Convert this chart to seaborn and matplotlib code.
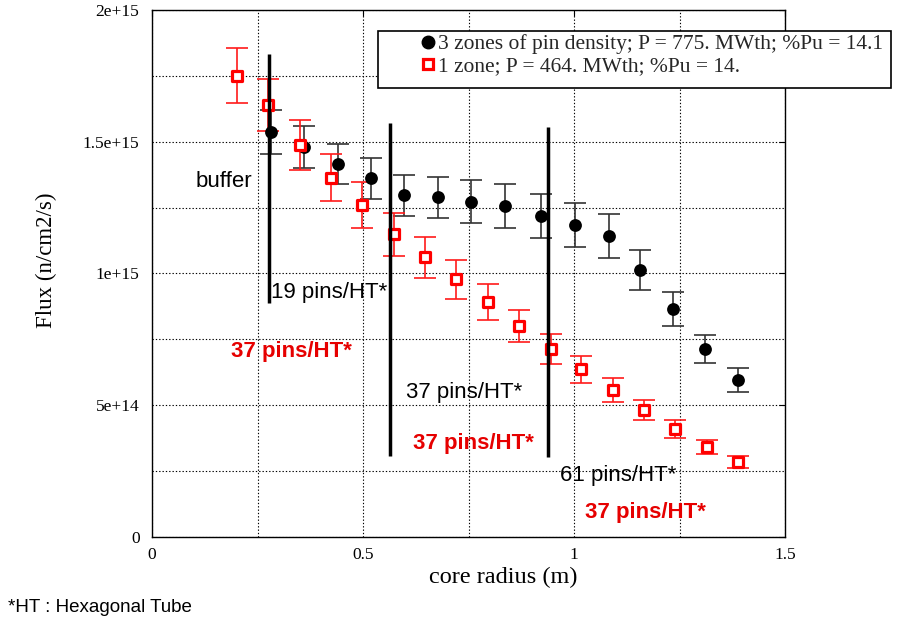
import matplotlib
matplotlib.use('Agg')
import matplotlib.pyplot as plt
import seaborn as sns
import numpy as np
import pandas as pd
from matplotlib.lines import Line2D
from matplotlib.patches import Rectangle

# ---------------- data ----------------
black_r = [0.282, 0.361, 0.441, 0.519, 0.598, 0.677, 0.756, 0.836, 0.921,
           1.002, 1.084, 1.157, 1.234, 1.311, 1.388]
black_flux = [1.537, 1.481, 1.416, 1.362, 1.297, 1.289, 1.273, 1.256, 1.218,
              1.184, 1.142, 1.013, 0.866, 0.713, 0.596]  # x1e15
black_err = [0.084, 0.079, 0.077, 0.078, 0.077, 0.079, 0.081, 0.082, 0.083,
             0.084, 0.084, 0.075, 0.065, 0.054, 0.045]

red_r = [0.202, 0.275, 0.350, 0.425, 0.498, 0.574, 0.646, 0.720, 0.796,
         0.869, 0.945, 1.017, 1.093, 1.167, 1.240, 1.316, 1.389]
red_flux = [1.750, 1.639, 1.487, 1.364, 1.260, 1.149, 1.061, 0.978, 0.891,
            0.802, 0.713, 0.636, 0.558, 0.482, 0.409, 0.343, 0.283]  # x1e15
red_err = [0.104, 0.100, 0.094, 0.089, 0.087, 0.082, 0.078, 0.074, 0.068,
           0.061, 0.056, 0.051, 0.044, 0.037, 0.034, 0.027, 0.023]

boundary_r = [0.278, 0.565, 0.938]
boundary_top = [1.833, 1.571, 1.556]
boundary_bottom = [0.888, 0.307, 0.304]

legend_labels = ["3 zones of pin density; P = 775. MWth; %Pu = 14.1",
                 "1 zone; P = 464. MWth; %Pu = 14."]
x_ticks = [0, 0.5, 1, 1.5]
x_tick_labels = ["0", "0.5", "1", "1.5"]
y_ticks = [0, 5e14, 1e15, 1.5e15, 2e15]
y_tick_labels = ["0", "5e+14", "1e+15", "1.5e+15", "2e+15"]

SCALE = 1e15
df_black = pd.DataFrame({"r": black_r,
                         "flux": np.array(black_flux) * SCALE,
                         "err": np.array(black_err) * SCALE})
df_red = pd.DataFrame({"r": red_r,
                       "flux": np.array(red_flux) * SCALE,
                       "err": np.array(red_err) * SCALE})

# ---------------- style ----------------
sns.set_theme(style='white')
plt.rcParams['font.family'] = ['Liberation Serif', 'DejaVu Serif']
SANS = ['Liberation Sans', 'DejaVu Sans']

W, H = 906, 625
fig = plt.figure(figsize=(W / 100, H / 100), dpi=100)
ax = fig.add_axes([152 / W, 1 - 537 / H, 633 / W, 527 / H])

# grid
ax.set_xlim(0, 1.5)
ax.set_ylim(0, 2e15)
ax.set_xticks(x_ticks, x_tick_labels)
ax.set_yticks(y_ticks, y_tick_labels)
ax.set_xticks(np.arange(0.25, 1.5, 0.5), minor=True)
ax.set_yticks(np.arange(2.5e14, 2e15, 5e14), minor=True)
ax.grid(which='both', linestyle=(0, (1.2, 1.8)), color='black', linewidth=0.8)
ax.set_axisbelow(True)

# error bars
ax.errorbar(df_black["r"], df_black["flux"], yerr=df_black["err"], fmt='none',
            ecolor='#333333', elinewidth=1.2, capsize=8, capthick=1.2, zorder=3)
ax.errorbar(df_red["r"], df_red["flux"], yerr=df_red["err"], fmt='none',
            ecolor='#ff1a1a', elinewidth=1.2, capsize=8, capthick=1.2, zorder=3)

# markers
sns.scatterplot(data=df_black, x="r", y="flux", marker='o', s=85, color='black',
                linewidth=0, ax=ax, zorder=4, legend=False)
sns.scatterplot(data=df_red, x="r", y="flux", marker='s', s=42, color='white',
                edgecolor='#ff0000', linewidth=2.3, ax=ax, zorder=4, legend=False)

# zone boundaries
ax.vlines(boundary_r, np.array(boundary_bottom) * SCALE, np.array(boundary_top) * SCALE,
          colors='black', linewidth=2.5, zorder=5)

# labels
ax.set_xlabel("core radius (m)", fontsize=17.5, color='black')
ax.set_ylabel("Flux (n/cm2/s)", fontsize=16.5, color='black')
ax.xaxis.set_label_coords((503 - 152) / 633, -(567 - 537) / 527)
ax.yaxis.set_label_coords((57 - 152) / 633, (537 - 260) / 527)

ax.tick_params(axis='both', which='major', direction='in', length=4, width=0.8,
               labelsize=12.5, colors='black', top=True, right=True)
ax.tick_params(axis='both', which='minor', direction='in', length=0)
ax.tick_params(axis='y', which='major', pad=9)
ax.tick_params(axis='x', which='major', pad=7)
for sp in ax.spines.values():
    sp.set_color('black')
    sp.set_linewidth(1.0)

# annotations
red_txt = '#e60000'
ax.text(0.1044, 1.329e15, "buffer", fontsize=16, family=SANS, color='black', va='baseline')
ax.text(0.2817, 0.908e15, "19 pins/HT*", fontsize=16, family=SANS, color='black', va='baseline')
ax.text(0.1868, 0.682e15, "37 pins/HT*", fontsize=16, family=SANS, color=red_txt,
        fontweight='bold', va='baseline')
ax.text(0.603, 0.529e15, "37 pins/HT*", fontsize=16, family=SANS, color='black', va='baseline')
ax.text(0.619, 0.333e15, "37 pins/HT*", fontsize=16, family=SANS, color=red_txt,
        fontweight='bold', va='baseline')
ax.text(0.968, 0.2125e15, "61 pins/HT*", fontsize=16, family=SANS, color='black', va='baseline')
ax.text(1.0254, 0.0732e15, "37 pins/HT*", fontsize=16, family=SANS, color=red_txt,
        fontweight='bold', va='baseline')

# legend with manual frame
fig.add_artist(Rectangle((378 / W, 1 - 88 / H), 513 / W, 57 / H, transform=fig.transFigure,
                         facecolor='white', edgecolor='black', linewidth=1.2, zorder=1))
handles = [Line2D([], [], marker='o', ls='none', color='black', markersize=9),
           Line2D([], [], marker='s', ls='none', markerfacecolor='white',
                  markeredgecolor='#ff0000', markeredgewidth=2.3, markersize=6.5)]
fig.legend(handles, legend_labels, loc='upper left', bbox_to_anchor=(423 / W, 1 - 34 / H),
           frameon=False, fontsize=15.5, handlelength=0.5, handletextpad=0.2,
           borderpad=0, labelspacing=0.1, borderaxespad=0)

fig.text(8 / W, 1 - 611.7 / H, "*HT : Hexagonal Tube", fontsize=13.5, family=SANS,
         color='black', va='baseline')

fig.savefig("out.png", dpi=100)
